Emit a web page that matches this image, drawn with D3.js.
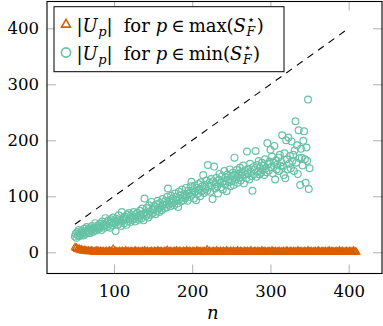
<!DOCTYPE html>
<html>
<head>
<meta charset="utf-8">
<script src="https://cdn.jsdelivr.net/npm/d3@7/dist/d3.min.js"></script>
<style>
  html, body { margin: 0; padding: 0; background: #fff; }
  svg { display: block; font-family: 'DejaVu Serif', serif; }
</style>
</head>
<body>
<svg id="chart" width="383" height="326"></svg>
<script>
var width = 383;
var height = 326;
var plotLeft = 47, plotRight = 382, plotTop = 1.5, plotBottom = 273.5;
var orange = '#d95f02';
var green = '#66c2a5';

var xTicks = [100, 200, 300, 400];
var yTicks = [0, 100, 200, 300, 400];

// dashed reference line |U_p| = n
var refN = [50, 400];
var refU = [50, 400];

// |U_p| for p in max(S_F*)
var maxN = [
  50, 51, 52, 53, 54, 55, 56, 57, 58, 59, 60, 61, 62, 63, 64, 65, 66, 67, 68, 69,
  70, 71, 72, 73, 74, 75, 76, 77, 78, 79, 80, 81, 82, 83, 84, 85, 86, 87, 88, 89,
  90, 91, 92, 93, 94, 95, 96, 97, 98, 99, 100, 101, 102, 103, 104, 105, 106, 107, 108, 109,
  110, 111, 112, 113, 114, 115, 116, 117, 118, 119, 120, 121, 122, 123, 124, 125, 126, 127, 128, 129,
  130, 131, 132, 133, 134, 135, 136, 137, 138, 139, 140, 141, 142, 143, 144, 145, 146, 147, 148, 149,
  150, 151, 152, 153, 154, 155, 156, 157, 158, 159, 160, 161, 162, 163, 164, 165, 166, 167, 168, 169,
  170, 171, 172, 173, 174, 175, 176, 177, 178, 179, 180, 181, 182, 183, 184, 185, 186, 187, 188, 189,
  190, 191, 192, 193, 194, 195, 196, 197, 198, 199, 200, 201, 202, 203, 204, 205, 206, 207, 208, 209,
  210, 211, 212, 213, 214, 215, 216, 217, 218, 219, 220, 221, 222, 223, 224, 225, 226, 227, 228, 229,
  230, 231, 232, 233, 234, 235, 236, 237, 238, 239, 240, 241, 242, 243, 244, 245, 246, 247, 248, 249,
  250, 251, 252, 253, 254, 255, 256, 257, 258, 259, 260, 261, 262, 263, 264, 265, 266, 267, 268, 269,
  270, 271, 272, 273, 274, 275, 276, 277, 278, 279, 280, 281, 282, 283, 284, 285, 286, 287, 288, 289,
  290, 291, 292, 293, 294, 295, 296, 297, 298, 299, 300, 301, 302, 303, 304, 305, 306, 307, 308, 309,
  310, 311, 312, 313, 314, 315, 316, 317, 318, 319, 320, 321, 322, 323, 324, 325, 326, 327, 328, 329,
  330, 331, 332, 333, 334, 335, 336, 337, 338, 339, 340, 341, 342, 343, 344, 345, 346, 347, 348, 349,
  350, 351, 352, 353, 354, 355, 356, 357, 358, 359, 360, 361, 362, 363, 364, 365, 366, 367, 368, 369,
  370, 371, 372, 373, 374, 375, 376, 377, 378, 379, 380, 381, 382, 383, 384, 385, 386, 387, 388, 389,
  390, 391, 392, 393, 394, 395, 396, 397, 398, 399, 400, 401, 402, 403, 404, 405, 406, 407, 408, 409,
  410
];
var maxU = [
  9, 7, 8, 5, 6, 4, 6, 3, 5, 4, 3, 2, 4, 2, 3, 2, 1, 3, 2, 1,
  2, 3, 1, 2, 0, 1, 2, 1, 3, 1, 2, 0, 1, 2, 1, 0, 2, 1, 0, 1,
  2, 1, 0, 1, 3, 0, 1, 2, 0, 6, 1, 0, 2, 1, 0, 1, 0, 2, 1, 0,
  1, 2, 0, 1, 0, 3, 1, 0, 2, 1, 0, 1, 2, 0, 1, 0, 1, 3, 0, 1,
  0, 2, 1, 0, 1, 0, 2, 1, 0, 3, 1, 0, 1, 2, 0, 1, 0, 1, 2, 0,
  1, 0, 2, 1, 0, 1, 3, 0, 1, 0, 2, 1, 0, 1, 0, 2, 1, 0, 4, 1,
  0, 1, 2, 0, 1, 0, 1, 2, 0, 1, 3, 0, 1, 0, 2, 1, 0, 1, 0, 2,
  1, 0, 1, 3, 0, 1, 0, 2, 1, 0, 1, 2, 0, 1, 0, 1, 3, 0, 1, 0,
  2, 1, 0, 1, 0, 2, 1, 0, 1, 5, 0, 1, 2, 0, 1, 0, 1, 2, 0, 1,
  0, 3, 1, 0, 1, 0, 2, 1, 0, 1, 2, 0, 1, 0, 3, 1, 0, 1, 0, 2,
  1, 0, 1, 2, 0, 1, 0, 1, 3, 0, 1, 0, 2, 1, 0, 1, 0, 2, 1, 0,
  1, 2, 0, 1, 0, 3, 1, 0, 1, 0, 2, 1, 0, 1, 2, 0, 1, 0, 1, 3,
  0, 1, 0, 2, 1, 0, 1, 0, 2, 1, 0, 1, 3, 0, 1, 0, 2, 1, 0, 1,
  0, 2, 1, 0, 1, 0, 1, 2, 0, 1, 0, 3, 1, 0, 1, 0, 2, 1, 0, 1,
  2, 0, 1, 0, 1, 3, 0, 1, 0, 2, 1, 0, 1, 0, 2, 1, 0, 1, 3, 0,
  1, 0, 2, 1, 0, 1, 0, 2, 1, 0, 1, 3, 0, 1, 0, 1, 2, 0, 1, 0,
  2, 1, 0, 1, 0, 3, 1, 0, 1, 2, 0, 1, 0, 1, 2, 0, 1, 0, 3, 1,
  0, 1, 2, 0, 1, 0, 1, 2, 0, 1, 0, 2, 1, 0, 1, 0, 3, 1, 0, 1,
  0
];

// |U_p| for p in min(S_F*)
var minN = [
  50, 51, 52, 53, 54, 55, 56, 57, 58, 59, 60, 61, 62, 63, 64, 65, 66, 67, 68, 69,
  70, 71, 72, 73, 74, 75, 76, 77, 78, 79, 80, 81, 82, 83, 84, 85, 86, 87, 88, 89,
  90, 91, 92, 93, 94, 95, 96, 97, 98, 99, 100, 101, 102, 103, 104, 105, 106, 107, 108, 109,
  110, 111, 112, 113, 114, 115, 116, 117, 118, 119, 120, 121, 122, 123, 124, 125, 126, 127, 128, 129,
  130, 131, 132, 133, 134, 135, 136, 137, 138, 139, 140, 141, 142, 143, 144, 145, 146, 147, 148, 149,
  150, 151, 152, 153, 154, 155, 156, 157, 158, 159, 160, 161, 162, 163, 164, 165, 166, 167, 168, 169,
  170, 171, 172, 173, 174, 175, 176, 177, 178, 179, 180, 181, 182, 183, 184, 185, 186, 187, 188, 189,
  190, 191, 192, 193, 194, 195, 196, 197, 198, 199, 200, 201, 202, 203, 204, 205, 206, 207, 208, 209,
  210, 211, 212, 213, 214, 215, 216, 217, 218, 219, 220, 221, 222, 223, 224, 225, 226, 227, 228, 229,
  230, 231, 232, 233, 234, 235, 236, 237, 238, 239, 240, 241, 242, 243, 244, 245, 246, 247, 248, 249,
  250, 251, 252, 253, 254, 255, 256, 257, 258, 259, 260, 261, 262, 263, 264, 265, 266, 267, 268, 269,
  270, 271, 272, 273, 274, 275, 276, 277, 278, 279, 280, 281, 282, 283, 284, 285, 286, 287, 288, 289,
  290, 291, 292, 293, 294, 295, 296, 297, 298, 299, 300, 301, 302, 303, 304, 305, 306, 307, 308, 309,
  310, 311, 312, 313, 314, 315, 316, 317, 318, 319, 320, 321, 322, 323, 324, 325, 326, 327, 328, 329,
  330, 331, 332, 333, 334, 335, 336, 337, 338, 339, 340, 341, 342, 343, 344, 345, 346, 347, 348, 349,
  350
];
var minU = [
  28, 33, 26, 36, 30, 40, 29, 34, 38, 31, 35, 30, 42, 37, 33, 45, 39, 36, 43, 34,
  41, 38, 47, 36, 44, 40, 52, 39, 46, 43, 48, 42, 51, 45, 40, 55, 47, 50, 44, 61,
  49, 53, 46, 57, 51, 44, 59, 54, 48, 62, 52, 56, 38, 60, 55, 49, 66, 53, 58, 47,
  72, 57, 61, 52, 64, 59, 49, 67, 56, 70, 60, 54, 66, 63, 58, 72, 61, 55, 68, 64,
  70, 62, 58, 74, 66, 61, 78, 68, 57, 96, 71, 65, 79, 69, 62, 84, 73, 67, 90, 76,
  70, 82, 77, 68, 86, 74, 92, 79, 72, 88, 81, 75, 95, 84, 78, 91, 86, 80, 99, 114,
  85, 93, 82, 101, 88, 96, 90, 84, 105, 94, 99, 87, 81, 108, 95, 102, 91, 112, 98, 93,
  104, 97, 115, 101, 92, 110, 106, 99, 118, 126, 103, 111, 96, 119, 108, 93, 115, 105, 122, 112,
  100, 125, 109, 118, 138, 106, 120, 113, 128, 110, 156, 117, 124, 108, 131, 119, 95, 127, 153, 114,
  122, 133, 118, 105, 129, 140, 124, 116, 136, 112, 127, 145, 121, 134, 109, 139, 130, 125, 148, 118,
  135, 127, 142, 120, 169, 138, 131, 147, 124, 140, 133, 151, 128, 143, 137, 155, 123, 146, 139, 132,
  180, 141, 149, 130, 158, 144, 136, 110, 152, 140, 148, 181, 135, 156, 145, 163, 139, 151, 142, 160,
  147, 155, 138, 166, 150, 143, 195, 158, 146, 162, 183, 152, 171, 141, 160, 190, 130, 164, 148, 157,
  169, 145, 174, 154, 161, 209, 153, 138, 177, 132, 200, 166, 148, 205, 158, 172, 150, 198, 163, 174,
  145, 182, 234, 160, 191, 140, 218, 168, 120, 185, 169, 155, 199, 216, 166, 124, 187, 163, 273, 113,
  150
];

var svg = d3.select('#chart');

var x = d3.scaleLinear().domain([14.35, 442.6]).range([plotLeft, plotRight]);
var y = d3.scaleLinear().domain([-37.9, 447.9]).range([plotBottom, plotTop]);

// ticks on all four sides, pointing inwards
function styleAxis(g) {
  g.select('.domain').remove();
  g.selectAll('.tick line').attr('stroke', '#b0b0b0').attr('stroke-width', 1);
  g.selectAll('.tick text').attr('fill', '#000').attr('font-size', 16.5)
    .attr('font-family', "'DejaVu Serif', serif");
}

svg.append('g').attr('transform', 'translate(0,' + plotBottom + ')')
  .call(d3.axisBottom(x).tickValues(xTicks).tickSizeInner(-9).tickSizeOuter(0).tickPadding(11.5))
  .call(styleAxis);
svg.append('g').attr('transform', 'translate(0,' + plotTop + ')')
  .call(d3.axisTop(x).tickValues(xTicks).tickSizeInner(-9).tickSizeOuter(0).tickFormat(''))
  .call(styleAxis);
svg.append('g').attr('transform', 'translate(' + plotLeft + ',0)')
  .call(d3.axisLeft(y).tickValues(yTicks).tickSizeInner(-9).tickSizeOuter(0).tickPadding(8))
  .call(styleAxis);
svg.append('g').attr('transform', 'translate(' + plotRight + ',0)')
  .call(d3.axisRight(y).tickValues(yTicks).tickSizeInner(-9).tickSizeOuter(0).tickFormat(''))
  .call(styleAxis);

// series
var triangle = d3.symbol(d3.symbolTriangle, 1.299 * 4 * 4);
var legendTriangle = d3.symbol(d3.symbolTriangle, 1.299 * 5.2 * 5.2);

svg.append('g').selectAll('path')
  .data(d3.zip(maxN, maxU)).enter().append('path')
  .attr('d', triangle)
  .attr('transform', d => 'translate(' + [x(d[0]), y(d[1])] + ')')
  .attr('fill', 'none')
  .attr('stroke', orange)
  .attr('stroke-width', 1.1);

svg.append('g').selectAll('circle')
  .data(d3.zip(minN, minU)).enter().append('circle')
  .attr('cx', d => x(d[0]))
  .attr('cy', d => y(d[1]))
  .attr('r', 3.4)
  .attr('fill', 'none')
  .attr('stroke', green)
  .attr('stroke-width', 1.2);

svg.append('path')
  .datum(d3.zip(refN, refU))
  .attr('d', d3.line().x(d => x(d[0])).y(d => y(d[1])))
  .attr('fill', 'none')
  .attr('stroke', '#000')
  .attr('stroke-width', 1.1)
  .attr('stroke-dasharray', '7,6');

// frame
svg.append('rect')
  .attr('x', plotLeft).attr('y', plotTop)
  .attr('width', plotRight - plotLeft).attr('height', plotBottom - plotTop)
  .attr('fill', 'none').attr('stroke', '#000').attr('stroke-width', 1.1);

// x label
svg.append('text')
  .attr('x', 212.7).attr('y', 319)
  .attr('text-anchor', 'middle')
  .attr('font-size', 18).attr('font-style', 'italic')
  .text('n');

// legend
var legend = svg.append('g');
legend.append('rect')
  .attr('x', 54).attr('y', 6.7).attr('width', 230).attr('height', 65)
  .attr('fill', '#fff').attr('stroke', '#000').attr('stroke-width', 1);

// write a run of math-ish text pieces left to right
function richText(g, x0, yb, runs) {
  var cx = x0;
  runs.forEach(r => {
    if (r.gap) { cx += r.gap; return; }
    if (r.stack) {
      var sup = g.append('text').attr('x', cx + 0.5).attr('y', yb - 8)
        .attr('font-size', 13).attr('font-family', "'DejaVu Sans', sans-serif").text(r.sup);
      var sub = g.append('text').attr('x', cx).attr('y', yb + 4)
        .attr('font-size', 12.5).attr('font-style', 'italic').text(r.sub);
      cx += Math.max(sup.node().getComputedTextLength(), sub.node().getComputedTextLength()) + 1.5;
      return;
    }
    var t = g.append('text').attr('x', cx).attr('y', yb + (r.dy || 0))
      .attr('font-size', r.size || 18)
      .attr('font-style', r.italic ? 'italic' : 'normal')
      .text(r.text);
    cx += t.node().getComputedTextLength() + (r.after || 0);
  });
}

var legendLabels = ['max', 'min'];
var legendRows = [32, 60];

legendLabels.forEach((op, i) => {
  var yb = legendRows[i];
  if (i === 0) {
    legend.append('path')
      .attr('d', legendTriangle)
      .attr('transform', 'translate(' + [66, yb - 7.5] + ')')
      .attr('fill', 'none').attr('stroke', orange).attr('stroke-width', 1.6);
  } else {
    legend.append('circle')
      .attr('cx', 66).attr('cy', yb - 7.5).attr('r', 4.6)
      .attr('fill', 'none').attr('stroke', green).attr('stroke-width', 1.6);
  }
  richText(legend, 76.5, yb, [
    {text: '|'},
    {text: 'U', italic: true, after: 0.5},
    {text: 'p', italic: true, size: 13, dy: 3.5},
    {text: '|'},
    {gap: 11},
    {text: 'for'},
    {gap: 6},
    {text: 'p', italic: true},
    {gap: 4},
    {text: '\u2208'},
    {gap: 4},
    {text: op},
    {text: '('},
    {text: 'S', italic: true, after: 0.5},
    {stack: true, sup: '\u22c6', sub: 'F'},
    {text: ')'}
  ]);
});
</script>
</body>
</html>
